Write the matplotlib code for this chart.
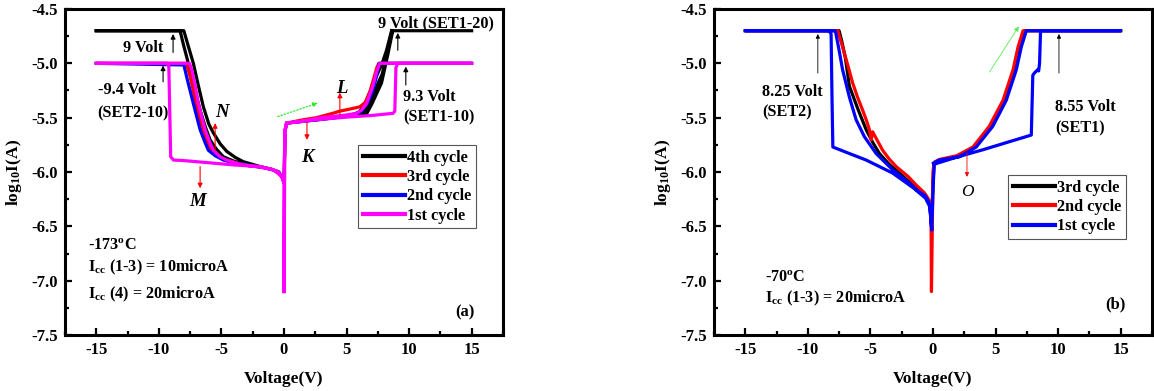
import numpy as np
import matplotlib
matplotlib.use("Agg")
import matplotlib.pyplot as plt
from matplotlib.ticker import MultipleLocator, FormatStrFormatter
from matplotlib.lines import Line2D

plt.rcParams.update({
    "font.family": "Liberation Serif",
    "font.weight": "bold",
    "axes.unicode_minus": False,
    "mathtext.fontset": "custom",
    "mathtext.rm": "Liberation Serif:bold",
    "mathtext.bf": "Liberation Serif:bold",
    "mathtext.it": "Liberation Serif:italic:bold",
})

nan = np.nan

# ---------------- (a) -173 C : log10 I vs voltage ----------------
a_c1_v = [0.0, 0.0, -0.18, -0.85, -1.9, -4.0, -6.0, -8.0, -8.83, -9.05, -9.2, -9.35, -15.0,
          -7.55, -7.37, -7.1, -6.84, -6.55, -6.3, -5.95, -5.64, -5.1, -4.57, -3.6, -2.7, -1.9,
          -1.0, -0.4, -0.1, 0.0, 0.08, 0.21, 1.3, 3.0, 5.0, 7.0, 8.72, 8.86, 8.95, 9.1, 15.0,
          7.66, 7.4, 7.1, 6.6, 6.2, 5.8, 5.0, 3.0, 1.3, 0.21, 0.08, 0.0]
a_c1_i = [-7.10, -6.10, -6.04, -5.98, -5.95, -5.935, -5.915, -5.895, -5.89, -5.86, -5.03, -5.00, -5.00,
          -5.00, -5.06, -5.20, -5.37, -5.50, -5.61, -5.72, -5.80, -5.86, -5.89, -5.925, -5.945, -5.955,
          -5.975, -6.0, -6.06, -6.10, -5.62, -5.55, -5.535, -5.515, -5.495, -5.48, -5.46, -5.44, -5.04, -5.00, -5.00,
          -5.00, -5.08, -5.21, -5.37, -5.43, -5.46, -5.475, -5.50, -5.535, -5.55, -5.62, -7.10]

a_c2_v = [-15.0, -8.0, -7.7, -7.24, -6.95, -6.7, -6.3, -6.04, -5.5, -4.84, -3.8, -2.7, -1.9, -1.0,
          -0.4, -0.1, 0.0, 0.1, 0.21, 3.0, 5.5, 6.2, 6.7, 7.1, 7.4, 7.6, 15.0]
a_c2_i = [-5.0, -5.015, -5.16, -5.37, -5.50, -5.61, -5.73, -5.80, -5.85, -5.89, -5.92, -5.94, -5.955, -5.975,
          -6.0, -6.06, -6.10, -5.62, -5.55, -5.515, -5.48, -5.44, -5.36, -5.25, -5.12, -5.0, -5.0]

a_c3_v = [-15.0, -7.8, -7.5, -7.1, -6.8, -6.5, -6.15, -5.8, -5.3, -4.7, -3.5, -2.5, -1.5, -0.5, -0.1,
          0.0, 0.1, 0.21, 1.5, 2.6, 3.9, 4.47, 5.3, 6.07, 6.5, 6.9, 7.2, 7.45, 7.6, 15.0]
a_c3_i = [-5.0, -5.0, -5.12, -5.33, -5.47, -5.60, -5.72, -5.80, -5.855, -5.89, -5.925, -5.945, -5.96, -5.995, -6.06,
          -6.10, -5.62, -5.55, -5.52, -5.50, -5.46, -5.44, -5.42, -5.40, -5.36, -5.25, -5.13, -5.03, -5.0, -5.0]

a_c4_v = [-15.0, -8.0, -7.7, -7.24, -6.85, -6.44, -6.0, -5.64, -5.1, -4.57, -3.9, -3.25, -2.5, -1.9, -1.0, nan,
          -15.0, -8.3, -8.05, -7.64, -7.15, -6.7, -6.3, -5.9, -5.4, -4.84, -4.0, -3.0, nan,
          0.21, 3.0, 5.5, 6.6, 7.0, 7.4, 7.8, 8.05, 8.3, 8.55, 8.7, 15.0, nan,
          8.65, 8.35, 8.1, 7.85, 7.53, 7.2, 6.9, 6.5, 6.2, 5.8, nan,
          8.6, 8.2, 7.85, 7.5, 7.13, 6.8, 6.4, 6.0, 5.5]
a_c4_i = [-4.70, -4.70, -4.82, -5.0, -5.2, -5.40, -5.56, -5.64, -5.74, -5.81, -5.865, -5.905, -5.93, -5.95, -5.975, nan,
          -4.70, -4.70, -4.82, -5.0, -5.23, -5.43, -5.58, -5.705, -5.79, -5.86, -5.90, -5.935, nan,
          -5.55, -5.515, -5.48, -5.465, -5.38, -5.28, -5.18, -5.05, -4.92, -4.78, -4.70, -4.70, nan,
          -4.70, -4.85, -4.98, -5.10, -5.18, -5.28, -5.36, -5.43, -5.46, -5.475, nan,
          -4.70, -4.88, -5.00, -5.09, -5.18, -5.29, -5.39, -5.45, -5.47]

a_labels = ["4th cycle", "3rd cycle", "2nd cycle", "1st cycle"]

# ---------------- (b) -70 C ----------------
b_c1_v = [-0.1, -0.25, -0.6, -1.34, -3.22, -5.34, -6.68, -8.0, -8.07, -8.14, -8.3, -15.0,
          -7.8, -7.5, -7.22, -6.68, -6.14, -5.48, -4.54, -3.22, -1.62, -1.22, -0.6, -0.25, -0.1,
          0.03, 0.1, 0.32, 2.0, 4.0, 6.0, 7.86, 7.98, 8.1, 8.36, 8.45, 8.52, 8.6, 15.0,
          7.46, 7.06, 6.66, 5.86, 4.78, 3.46, 2.12, 0.5, 0.03]
b_c1_i = [-6.53, -6.30, -6.22, -6.165, -6.01, -5.89, -5.83, -5.77, -5.30, -4.73, -4.70, -4.70,
          -4.70, -4.88, -5.06, -5.31, -5.52, -5.675, -5.83, -5.98, -6.13, -6.18, -6.24, -6.32, -6.53,
          -6.10, -5.93, -5.92, -5.86, -5.795, -5.725, -5.66, -5.11, -5.09, -5.06, -5.07, -5.0, -4.70, -4.70,
          -4.70, -4.85, -5.06, -5.34, -5.58, -5.77, -5.86, -5.89, -5.92]

b_c2_v = [-15.0, -7.6, -7.4, -7.22, -6.8, -6.42, -6.0, -5.62, -5.3, -5.08, -4.94, -4.82, -4.4, -4.02,
          -3.5, -2.94, -2.0, -1.34, -0.7, -0.3, -0.15, -0.12, -0.05, 0.0, 0.1, 0.5, 1.9, 3.2, 4.5, 5.6,
          6.4, 6.8, 7.2, 15.0]
b_c2_i = [-4.70, -4.70, -4.78, -4.85, -5.02, -5.18, -5.32, -5.43, -5.53, -5.61, -5.705, -5.63, -5.72, -5.80,
          -5.88, -5.95, -6.04, -6.12, -6.19, -6.26, -6.45, -7.10, -6.50, -6.00, -5.91, -5.885, -5.85, -5.77, -5.58, -5.34,
          -5.06, -4.85, -4.70, -4.70]

b_c3_v = [-15.0, -7.5, -7.3, -7.0, -6.68, -6.0, -5.34, -4.8, -4.28, -3.5, -2.68, -1.34, -0.6, -0.2, -0.1,
          0.0, 0.1, 0.5, 2.0, 3.35, 4.65, 5.75, 6.55, 6.95, 7.35, 15.0]
b_c3_i = [-4.70, -4.70, -4.79, -4.95, -5.21, -5.42, -5.61, -5.73, -5.83, -5.93, -6.01, -6.15, -6.21, -6.30, -6.40,
          -6.10, -5.915, -5.89, -5.855, -5.77, -5.58, -5.34, -5.06, -4.85, -4.70, -4.70]

b_labels = ["3rd cycle", "2nd cycle", "1st cycle"]

MAGENTA = "#ff00ff"
RED = "#ff0000"
BLUE = "#0000ff"
BLACK = "#000000"
LW = 2.3

fig = plt.figure(figsize=(11.54, 3.91), dpi=100)
ax_a = fig.add_axes([0.0563, 0.1432, 0.3795, 0.8338])
ax_b = fig.add_axes([0.6187, 0.1432, 0.3795, 0.8338])


def style_axes(ax):
    ax.set_xlim(-17.5, 17.5)
    ax.set_ylim(-7.5, -4.5)
    ax.xaxis.set_major_locator(MultipleLocator(5))
    ax.xaxis.set_minor_locator(MultipleLocator(2.5))
    ax.yaxis.set_major_locator(MultipleLocator(0.5))
    ax.yaxis.set_minor_locator(MultipleLocator(0.25))
    ax.yaxis.set_major_formatter(FormatStrFormatter("%.1f"))
    ax.tick_params(which="both", direction="in", top=False, right=False, width=1.6)
    ax.tick_params(which="major", length=5, labelsize=12, pad=5)
    ax.tick_params(which="minor", length=3)
    for lab in ax.get_xticklabels() + ax.get_yticklabels():
        lab.set_fontweight("bold")
    for sp in ax.spines.values():
        sp.set_linewidth(2.2)
    ax.set_xlabel("Voltage(V)", fontsize=12.5, fontweight="bold")
    ax.set_ylabel(r"log$_{\mathrm{10}}$I(A)", fontsize=12.5, fontweight="bold")
    ax.xaxis.set_label_coords(0.5, -0.11)
    ax.yaxis.set_label_coords(-0.094, 0.5)


def arrow(ax, x0, y0, x1, y1, color="black", ls="-", lw=0.8, ms=7):
    ax.annotate("", xy=(x1, y1), xytext=(x0, y0),
                arrowprops=dict(arrowstyle="-|>", color=color, lw=lw, ls=ls,
                                mutation_scale=ms, shrinkA=0, shrinkB=0))


TXT = dict(fontsize=11.7, fontweight="bold", ha="left", va="center")
LET = dict(fontsize=13.5, fontweight="bold", style="italic", ha="center", va="center")
LEG = dict(loc="upper left", borderaxespad=0, fancybox=False, framealpha=1,
           edgecolor="#555555", prop=dict(family="Liberation Serif", weight="bold", size=11.7),
           handlelength=2.6, handletextpad=0.1, labelspacing=0.2, borderpad=0.3)

# ---- panel (a)
ax = ax_a
ax.plot(a_c4_v, a_c4_i, color=BLACK, lw=LW, solid_joinstyle="round")
ax.plot(a_c3_v, a_c3_i, color=RED, lw=LW, solid_joinstyle="round")
ax.plot(a_c2_v, a_c2_i, color=BLUE, lw=LW, solid_joinstyle="round")
ax.plot(a_c1_v, a_c1_i, color=MAGENTA, lw=LW, solid_joinstyle="round")
style_axes(ax)

ax.text(-12.9, -4.86, "9 Volt", **TXT)
arrow(ax, -8.86, -4.90, -8.86, -4.73)
arrow(ax, -9.66, -5.17, -9.66, -5.02)
ax.text(-14.9, -5.25, "-9.4 Volt", **TXT)
ax.text(-14.9, -5.46, "(SET2-10)", **TXT)
ax.text(-4.95, -5.45, "N", **LET)
arrow(ax, -5.5, -5.80, -5.5, -5.55, color=RED)
ax.text(-6.94, -6.27, "M", **LET)
arrow(ax, -6.7, -5.95, -6.7, -6.15, color=RED)
arrow(ax, -0.48, -5.49, 2.71, -5.365, color="#22ee22", ls=":", lw=0.9)
ax.text(4.63, -5.23, "L", **LET)
arrow(ax, 4.47, -5.475, 4.47, -5.27, color=RED)
ax.text(1.84, -5.87, "K", **LET)
arrow(ax, 1.84, -5.55, 1.84, -5.705, color=RED)
ax.text(7.5, -4.63, "9 Volt (SET1-20)", **TXT)
arrow(ax, 9.1, -4.88, 9.1, -4.72)
ax.text(9.5, -5.31, "9.3 Volt", **TXT)
ax.text(9.5, -5.50, "(SET1-10)", **TXT)
arrow(ax, 9.74, -5.20, 9.74, -5.03)
ax.text(-15.65, -6.68, r"-173$^{\mathrm{o}}$C", **TXT)
ax.text(-15.65, -6.88, r"I$_{\mathrm{cc}}$ (1-3) = 10microA", **TXT)
ax.text(-15.65, -7.13, r"I$_{\mathrm{cc}}$ (4) = 20microA", **TXT)
ax.text(14.5, -7.29, "(a)", fontsize=12, fontweight="bold", ha="center", va="center")

handles_a = [Line2D([], [], color=c, lw=3) for c in (BLACK, RED, BLUE, MAGENTA)]
leg = ax.legend(handles_a, a_labels, bbox_to_anchor=(0.669, 0.583), **LEG)
leg.get_frame().set_linewidth(0.8)

# ---- panel (b)
ax = ax_b
ax.plot(b_c3_v, b_c3_i, color=BLACK, lw=LW, solid_joinstyle="round")
ax.plot(b_c2_v, b_c2_i, color=RED, lw=LW, solid_joinstyle="round")
ax.plot(b_c1_v, b_c1_i, color=BLUE, lw=LW, solid_joinstyle="round")
style_axes(ax)

arrow(ax, -9.2, -5.09, -9.2, -4.73, lw=0.6, ms=6)
ax.text(-13.68, -5.26, "8.25 Volt", **TXT)
ax.text(-13.68, -5.45, "(SET2)", **TXT)
arrow(ax, 10.07, -5.09, 10.07, -4.73, lw=0.6, ms=6)
ax.text(9.78, -5.40, "8.55 Volt", **TXT)
ax.text(9.78, -5.595, "(SET1)", **TXT)
arrow(ax, 4.52, -5.08, 6.86, -4.66, color="#55ee55", lw=0.6, ms=7)
arrow(ax, 2.72, -5.825, 2.72, -6.045, color=RED, lw=0.6, ms=6)
ax.text(2.72, -6.18, "O", fontsize=12.5, style="italic", fontweight="normal", ha="center", va="center")
ax.text(-13.4, -6.975, r"-70$^{\mathrm{o}}$C", **TXT)
ax.text(-13.4, -7.16, r"I$_{\mathrm{cc}}$ (1-3) = 20microA", **TXT)
ax.text(14.6, -7.22, "(b)", fontsize=12, fontweight="bold", ha="center", va="center")

handles_b = [Line2D([], [], color=c, lw=3) for c in (BLACK, RED, BLUE)]
leg = ax.legend(handles_b, b_labels, bbox_to_anchor=(0.671, 0.491), **LEG)
leg.get_frame().set_linewidth(0.8)

fig.savefig("out.png", dpi=100)
